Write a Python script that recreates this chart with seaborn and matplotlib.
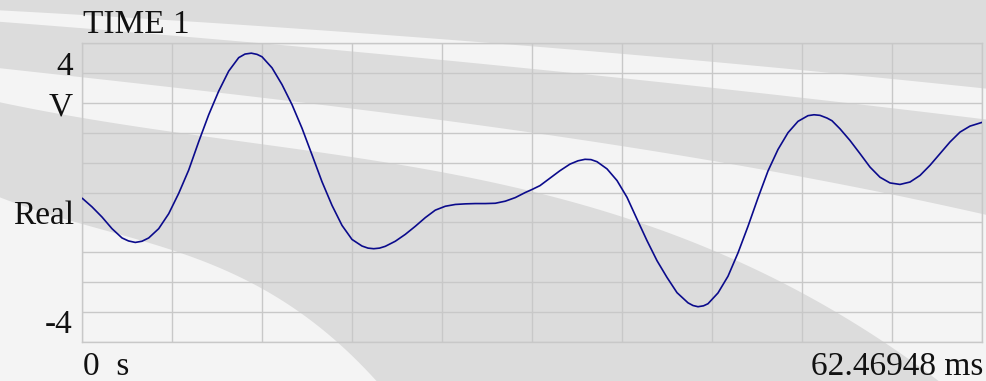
import numpy as np
import pandas as pd
import matplotlib
matplotlib.use("Agg")
import matplotlib.pyplot as plt
import seaborn as sns

# ---- waveform record (TIME 1, Real part) ----
t_end_ms = 62.46948
time_ms = [
     0.000,  0.659,  1.354,  2.048,  2.742,  3.193,  3.665,  4.130,  4.595,  5.289,
     5.983,  6.677,  7.371,  8.066,  8.760,  9.454, 10.148, 10.842, 11.279, 11.717,
    12.112, 12.459, 13.153, 13.847, 14.541, 15.236, 15.930, 16.624, 17.318, 18.012,
    18.706, 19.400, 19.817, 20.212, 20.615, 21.017, 21.712, 22.406, 23.100, 23.794,
    24.488, 25.182, 25.876, 26.571, 27.265, 27.959, 28.653, 29.347, 30.041, 30.735,
    31.200, 31.755, 32.449, 33.144, 33.838, 34.393, 34.879, 35.295, 35.712, 36.406,
    37.100, 37.794, 38.488, 39.182, 39.876, 40.570, 41.265, 42.028, 42.376, 42.723,
    43.104, 43.416, 44.110, 44.805, 45.499, 46.193, 46.887, 47.581, 48.275, 48.969,
    49.664, 50.358, 50.774, 51.190, 51.676, 52.023, 52.578, 53.272, 53.967, 54.661,
    55.355, 56.049, 56.743, 57.438, 58.132, 58.826, 59.520, 60.214, 60.908, 61.602,
    62.469,
]
volts = [
    -0.20, -0.48, -0.82, -1.21, -1.52, -1.62, -1.67, -1.63, -1.52, -1.21,
    -0.71, -0.03,  0.75,  1.70,  2.60,  3.39,  4.06,  4.51,  4.63,  4.66,
     4.62,  4.54,  4.17,  3.61,  2.94,  2.15,  1.26,  0.36, -0.43, -1.10,
    -1.57, -1.79, -1.86, -1.88, -1.86, -1.80, -1.63, -1.40, -1.13, -0.84,
    -0.59, -0.46, -0.40, -0.38, -0.37, -0.37, -0.36, -0.29, -0.17,  0.00,
     0.10,  0.23,  0.48,  0.73,  0.95,  1.06,  1.11,  1.10,  1.03,  0.79,
     0.40, -0.16, -0.89, -1.61, -2.28, -2.84, -3.35, -3.69, -3.78, -3.82,
    -3.79, -3.72, -3.36, -2.80, -2.02, -1.13, -0.18,  0.72,  1.44,  2.00,
     2.38,  2.57,  2.60,  2.58,  2.49,  2.40,  2.13,  1.74,  1.30,  0.85,
     0.51,  0.32,  0.27,  0.35,  0.57,  0.91,  1.30,  1.69,  2.02,  2.22,
     2.35,
]
df = pd.DataFrame({"time_ms": time_ms, "volts": volts})

y_min, y_max = -5, 5
n_div = 10

W, H = 987, 381
fig = plt.figure(figsize=(W / 100, H / 100), dpi=100)
fig.patch.set_facecolor("#dcdcdc")

# ---- decorative swoosh backdrop, in pixel coordinates ----
bg = fig.add_axes([0, 0, 1, 1], zorder=-5)
bg.set_xlim(0, W)
bg.set_ylim(H, 0)
bg.axis("off")
xs = np.linspace(0, W, 400)


def edge(points, deg=3):
    px, py = np.array(points, dtype=float).T
    return np.polyval(np.polyfit(px, py, deg), xs)


light = "#f4f4f4"
a_up = edge([(0, 10), (330, 32), (660, 56), (830, 73), (987, 89)], 2)
a_lo = edge([(0, 22), (330, 49), (660, 82), (830, 102), (987, 119)], 2)
c_up = edge([(0, 67), (82, 79), (232, 95), (382, 110), (532, 133),
             (682, 157), (832, 182), (987, 215)])
c_lo = edge([(0, 105), (82, 115), (232, 137), (382, 165), (532, 193),
             (682, 240), (832, 302), (933, 381)])
f_lo = edge([(0, 198), (82, 222), (172, 252), (262, 289), (295, 309),
             (339, 341), (375, 381)])
bg.fill_between(xs, a_up, a_lo, color=light, lw=0)
bg.fill_between(xs, c_up, np.maximum(c_lo, c_up), color=light, lw=0)
bg.fill_between(xs, np.minimum(f_lo, H + 50), H + 50, color=light, lw=0)

# ---- scope graticule ----
L, R, T, B = 82.5, 982.5, 43, 342
ax = fig.add_axes([L / W, 1 - B / H, (R - L) / W, (B - T) / H])
ax.patch.set_alpha(0)
sns.lineplot(data=df, x="time_ms", y="volts", ax=ax, color="#0b0b8c",
             linewidth=1.2, sort=False, estimator=None, zorder=3)
ax.set_xlim(0, t_end_ms)
ax.set_ylim(y_min, y_max)
ax.set_xticks(np.linspace(0, t_end_ms, n_div + 1))
ax.set_yticks(np.linspace(y_min, y_max, n_div + 1))
ax.grid(True, color="#c8c8c8", linewidth=1.0)
ax.tick_params(length=0, labelbottom=False, labelleft=False)
ax.set_xlabel("")
ax.set_ylabel("")
for s in ax.spines.values():
    s.set_color("#c8c8c8")
    s.set_linewidth(1.0)

# ---- annotations ----
font = dict(family="Liberation Serif", size=24, color="#111111")


def label(x, y, s, ha="left"):
    fig.text(x / W, 1 - y / H, s, ha=ha, va="baseline", **font)


label(83, 33, "TIME 1")
label(73, 75, "4", "right")
label(73, 115, "V", "right")
label(74, 224, "Real", "right")
label(73, 333, "-4", "right")
label(83, 375, "0  s")
label(983, 375, "62.46948 ms", "right")

fig.savefig("out.png", dpi=100, facecolor=fig.get_facecolor())
